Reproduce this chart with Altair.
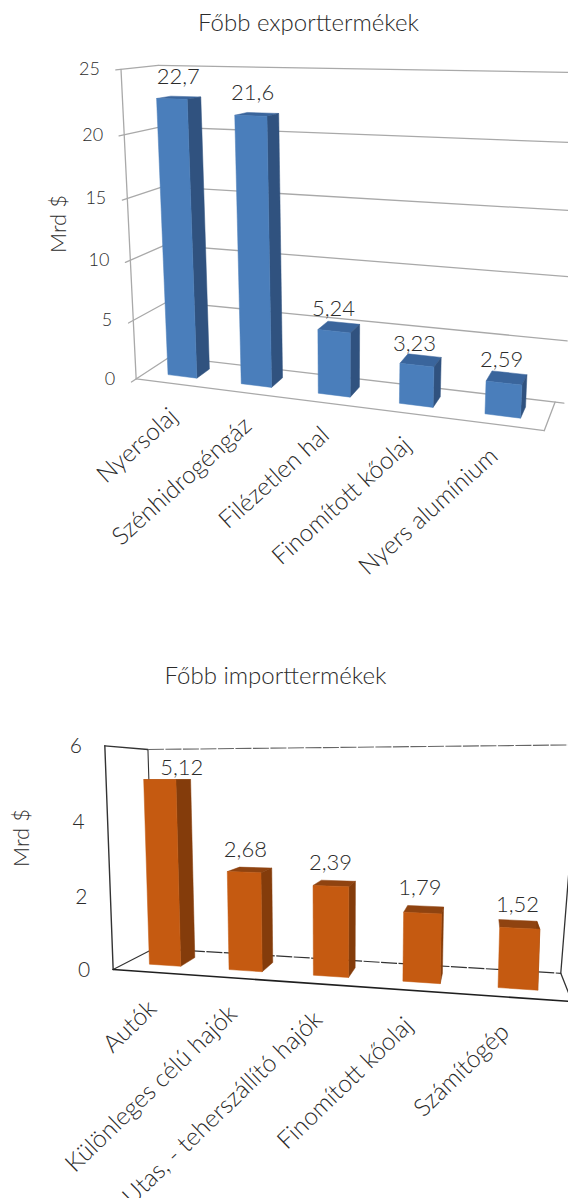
import altair as alt
import numpy as np
import pandas as pd

# Chart values
export_title = "Főbb exporttermékek"
export_categories = ["Nyersolaj", "Szénhidrogéngáz", "Filézetlen hal", "Finomított kőolaj", "Nyers alumínium"]
export_values = [22.7, 21.6, 5.24, 3.23, 2.59]
export_ticks = [0, 5, 10, 15, 20, 25]

import_title = "Főbb importtermékek"
import_categories = ["Autók", "Különleges célú hajók", "Utas, - teherszállító hajók", "Finomított kőolaj", "Számítógép"]
import_values = [5.12, 2.68, 2.39, 1.79, 1.52]
import_ticks = [0, 2, 4, 6]

axis_title = "Mrd $"
FONT = "Lato"
TEXT = "#2b2b2b"


def fit_camera(samples):
    """Least-squares pinhole camera from (across, height, depth) -> screen pairs."""
    rows = []
    for (u, t, d), (sx, sy) in samples:
        sx, sy = sx / 568, sy / 1198
        rows.append([u, t, d, 1, 0, 0, 0, 0, -sx * u, -sx * t, -sx * d, -sx])
        rows.append([0, 0, 0, 0, u, t, d, 1, -sy * u, -sy * t, -sy * d, -sy])
    return np.linalg.svd(np.array(rows, dtype=float))[2][-1].reshape(3, 4)


def project(cam, u, t, d):
    p = cam @ np.array([u, t, d, 1.0])
    return p[0] / p[2] * 568, p[1] / p[2] * 1198


export_cam = fit_camera([
    ((0, 1.0, 0), (120, 68)), ((0, .8, 0), (123.5, 135)), ((0, .6, 0), (127, 199)),
    ((0, .4, 0), (131, 260)), ((0, .2, 0), (135, 320)), ((0, 0, 0), (136, 377)),
    ((0, 1.0, 1), (161, 65)), ((0, .8, 1), (160, 127)), ((0, .6, 1), (162, 187)),
    ((0, .4, 1), (165, 246)), ((0, .2, 1), (167, 303)), ((0, 0, 1), (170, 357)),
    ((1, 1.0, 1), (571, 72)), ((1, .8, 1), (568, 143)), ((1, .6, 1), (565, 211)),
    ((1, .4, 1), (562, 276)), ((1, .2, 1), (558.5, 339)), ((1, 0, 1), (555, 399)),
    ((1, 0, 0), (544, 434)),
])
import_cam = fit_camera([
    ((0, 1, 0), (103, 746)), ((0, 2 / 3, 0), (107, 823)), ((0, 1 / 3, 0), (111, 896)), ((0, 0, 0), (115, 968)),
    ((0, 1, 1), (150, 749)), ((0, 0, 1), (152, 950)),
    ((1, 1, 1), (569, 745)), ((1, 0, 1), (561, 972)), ((1, 0, 0), (572, 1003)),
])

polys, lines, value_text, export_tick_text, import_tick_text, cat_text = [], [], [], [], [], []
cat_angle = {"e": 318, "i": 316}


def add_line(name, cam, a, b, stroke, width, dash=0):
    for k, (u, t, d) in enumerate((a, b)):
        x, y = project(cam, u, t, d)
        lines.append(dict(id=name, k=k, x=x, y=y, stroke=stroke, w=width, dash=dash))


def add_bars(panel, cam, cats, vals, vmax, colors, nudge, cat_dx, cat_dy):
    half, d0, d1 = 0.04, 0.3, 0.7
    for i, (cat, v) in enumerate(zip(cats, vals)):
        c = (i + 0.5) / 5
        l, r, t = c - half, c + half, v / vmax
        faces = [
            ("top", [(l, t, d0), (r, t, d0), (r, t, d1), (l, t, d1)], colors[2]),
            ("side", [(r, 0, d0), (r, t, d0), (r, t, d1), (r, 0, d1)], colors[1]),
            ("front", [(l, 0, d0), (l, t, d0), (r, t, d0), (r, 0, d0)], colors[0]),
        ]
        for name, corners, fill in faces:
            for k, (a, b, e) in enumerate(corners + corners[:1]):
                x, y = project(cam, a, b, e)
                polys.append(dict(id=f"{panel}{i}{name}", k=k, x=x, y=y, fill=fill))
        x, y = project(cam, c + 0.012, t, d1)
        value_text.append(dict(x=x + nudge[i][0], y=y + nudge[i][1], text=str(v).replace(".", ",")))
        x, y = project(cam, c, 0, d0)
        cat_text.append(dict(x=x + cat_dx, y=y + cat_dy, text=cat, angle=cat_angle[panel]))


# Export panel: grey wall grid with small outward ticks
GREY = "#a9a9a9"
for v in export_ticks:
    t = v / 25
    add_line(f"eside{v}", export_cam, (0, t, -0.13), (0, t, 1), GREY, 1.3)
    add_line(f"eback{v}", export_cam, (0, t, 1), (1.02, t, 1), GREY, 1.3)
    x, y = project(export_cam, 0, t, 0)
    export_tick_text.append(dict(x=x - 21, y=y + 1, text=str(v)))
add_line("eleft", export_cam, (0, 0, 0), (0, 1, 0), GREY, 1.3)
add_line("efront", export_cam, (0, 0, 0), (1, 0, 0), GREY, 1.3)
add_line("eright", export_cam, (1, 0, 0), (1, 0, 1), GREY, 1.3)
add_bars("e", export_cam, export_categories, export_values, 25,
         ("#4a7ebb", "#30527f", "#3a659c"),
         [(-12, -20), (-15, -20), (-15, -14), (-15, -12), (-13, -13)], -8, 37)

# Import panel: dark wireframe box
DARK = "#333333"
MID = "#666666"
for v in import_ticks:
    x, y = project(import_cam, 0, v / 6, 0)
    import_tick_text.append(dict(x=x - 23, y=y + 1, text=str(v)))
for name, a, b, dash, col, w in [
    ("ifl", (0, 0, 0), (0, 1, 0), 0, DARK, 1.4), ("ibl", (0, 0, 1), (0, 1, 1), 0, DARK, 1.1),
    ("ibr", (1, 0, 1), (1.02, 1, 1), 0, DARK, 1.3), ("itop", (0, 1, 0), (0, 1, 1), 0, DARK, 1.3),
    ("iback", (0, 1, 1), (1.02, 1, 1), 1, MID, 1.1), ("ifloorb", (0, 0, 1), (1, 0, 1), 1, DARK, 1.2),
    ("iside", (0, 0, 0), (0, 0, 1), 0, DARK, 1.1), ("ifront", (0, 0, 0), (1.02, 0, 0), 0, "#1f1f1f", 1.6),
    ("iright", (1, 0, 0), (1, 0, 1), 0, DARK, 1.3),
]:
    add_line(name, import_cam, a, b, col, w, dash)
add_bars("i", import_cam, import_categories, import_values, 6,
         ("#c55a11", "#843c0b", "#8f4310"),
         [(2, -12), (-15, -18), (-13, -18), (-11, -18), (-6, -16)], -12, 40)

X = alt.X("x:Q", scale=alt.Scale(domain=[0, 568]), axis=None)
Y = alt.Y("y:Q", scale=alt.Scale(domain=[1198, 0]), axis=None)

line_df = pd.DataFrame(lines)
solid = alt.Chart(line_df[line_df.dash == 0]).mark_line(clip=True, strokeCap="round").encode(
    X, Y, detail="id:N", order="k:Q",
    stroke=alt.Stroke("stroke:N", scale=None), strokeWidth=alt.StrokeWidth("w:Q", scale=None))
broken = alt.Chart(line_df[line_df.dash == 1]).mark_line(clip=True, strokeDash=[16, 1.5]).encode(
    X, Y, detail="id:N", order="k:Q",
    stroke=alt.Stroke("stroke:N", scale=None), strokeWidth=alt.StrokeWidth("w:Q", scale=None))

poly_df = pd.DataFrame(polys)
faces = [
    alt.Chart(g).mark_line(fill=g.fill.iloc[0], stroke=g.fill.iloc[0], strokeWidth=0.5, clip=True).encode(X, Y, order="k:Q")
    for _, g in poly_df.groupby("id", sort=False)
]


def text_layer(rows, size, **mark):
    return alt.Chart(pd.DataFrame(rows)).mark_text(
        font=FONT, fontWeight=300, fontSize=size, color=TEXT, **mark
    ).encode(X, Y, text="text:N")


values_layer = text_layer(value_text, 22, align="center", baseline="middle")
export_ticks_layer = text_layer(export_tick_text, 18, align="right", baseline="middle")
import_ticks_layer = text_layer(import_tick_text, 21, align="right", baseline="middle")
cats_layer = alt.Chart(pd.DataFrame(cat_text)).mark_text(
    font=FONT, fontWeight=300, fontSize=24.5, color=TEXT, align="right", baseline="middle"
).encode(X, Y, text="text:N", angle=alt.Angle("angle:Q", scale=None))
titles_layer = text_layer(
    [dict(x=308.5, y=24, text=export_title), dict(x=275.5, y=677, text=import_title)],
    24, align="center", baseline="middle")
units_layer = text_layer(
    [dict(x=58.5, y=224, text=axis_title), dict(x=22, y=838, text=axis_title)],
    22, align="center", baseline="middle", angle=270)

chart = alt.layer(
    solid, broken, *faces, values_layer, export_ticks_layer, import_ticks_layer,
    cats_layer, titles_layer, units_layer
).properties(width=568, height=1198, padding=0, background="white").configure_view(stroke=None)

chart.save("out.html", embed_options={"renderer": "svg", "actions": False})
